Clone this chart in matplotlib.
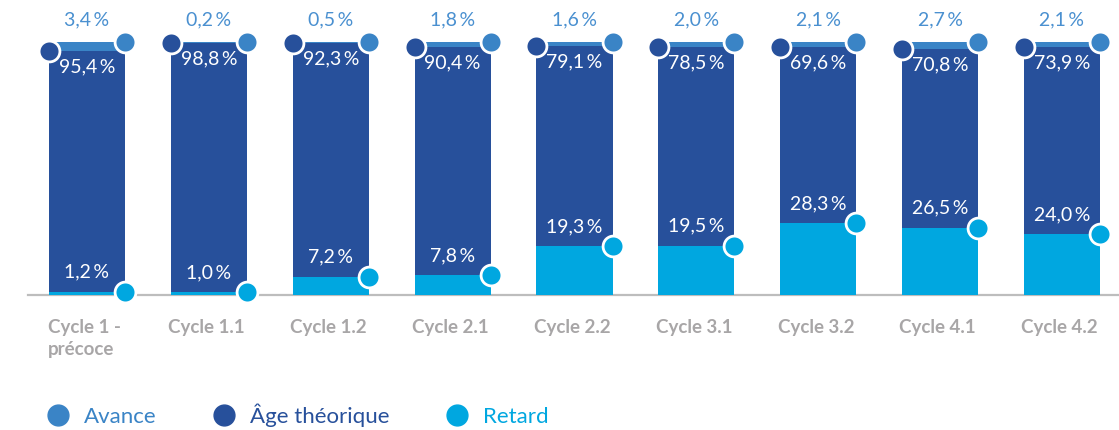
import matplotlib
matplotlib.use("Agg")
import matplotlib.pyplot as plt
from matplotlib.lines import Line2D
import numpy as np

# data
cycles = ["Cycle 1 -\nprécoce", "Cycle 1.1", "Cycle 1.2", "Cycle 2.1", "Cycle 2.2",
          "Cycle 3.1", "Cycle 3.2", "Cycle 4.1", "Cycle 4.2"]
retard = [1.2, 1.0, 7.2, 7.8, 19.3, 19.5, 28.3, 26.5, 24.0]
age_theorique = [95.4, 98.8, 92.3, 90.4, 79.1, 78.5, 69.6, 70.8, 73.9]
avance = [3.4, 0.2, 0.5, 1.8, 1.6, 2.0, 2.1, 2.7, 2.1]

C_AVANCE = "#3a84c6"
C_AGE = "#27509b"
C_RETARD = "#00a7e0"
C_TICK = "#a8a6a7"

plt.rcParams["font.family"] = ["Lato", "DejaVu Sans"]


def fmt(v):
    return f"{v:.1f}".replace(".", ",") + "\u2009%"


fig = plt.figure(figsize=(11.19, 4.3), dpi=100)
ax = fig.add_axes([0, 0, 1, 1])
ax.set_axis_off()

# 1 unit on x = 121.875 px, 1 % on y = 2.53 px
ax.set_xlim(-87 / 121.875, (1119 - 87) / 121.875)
ax.set_ylim(-135 / 2.53, 100 + 42 / 2.53)

x = np.arange(len(cycles))
w = 0.625
ret = np.array(retard)
age = np.array(age_theorique)
av = np.array(avance)

ax.bar(x, ret, w, color=C_RETARD, zorder=2)
ax.bar(x, age, w, bottom=ret, color=C_AGE, zorder=2)
ax.bar(x, av, w, bottom=ret + age, color=C_AVANCE, zorder=2)

# baseline
ax.plot([(28 - 87) / 121.875, 9], [0, 0], color="#bdbdbd", lw=1.6, zorder=1)

mk = dict(marker="o", ms=15, mec="white", mew=2, ls="none", zorder=4)
ax.plot(x + w / 2, ret, mfc=C_RETARD, **mk)
ax.plot(x - w / 2, ret + age, mfc=C_AGE, **mk)
ax.plot(x + w / 2, ret + age + av, mfc=C_AVANCE, **mk)

for i in x:
    top = ret[i] + age[i] + av[i]
    ax.text(i, top + 8.6, fmt(av[i]), ha="center", va="center",
            color="#4a90d0", fontsize=14, zorder=5)
    ax.text(i, ret[i] + age[i] - 6.3, fmt(age[i]), ha="center", va="center",
            color="white", fontsize=14, zorder=5)
    ax.text(i, ret[i] + 7.8, fmt(ret[i]), ha="center", va="center",
            color="white", fontsize=14, zorder=5)
    ax.text(i - 0.02, -9.4, cycles[i], ha="center", va="top", multialignment="left",
            color=C_TICK, fontsize=13.5, fontweight="bold", linespacing=1.4)

handles = [Line2D([], [], marker="o", ls="none", ms=15, mfc=c, mec=c)
           for c in (C_AVANCE, C_AGE, C_RETARD)]
ax.legend(handles, ["Avance", "Âge théorique", "Retard"], ncol=3,
          loc="center left", bbox_to_anchor=(25 / 1119, 15 / 430),
          bbox_transform=fig.transFigure, frameon=False, fontsize=16,
          labelcolor=[C_AVANCE, C_AGE, C_RETARD], handletextpad=0.55,
          columnspacing=2.45, handlelength=1.2)

fig.savefig("out.png", dpi=100)
